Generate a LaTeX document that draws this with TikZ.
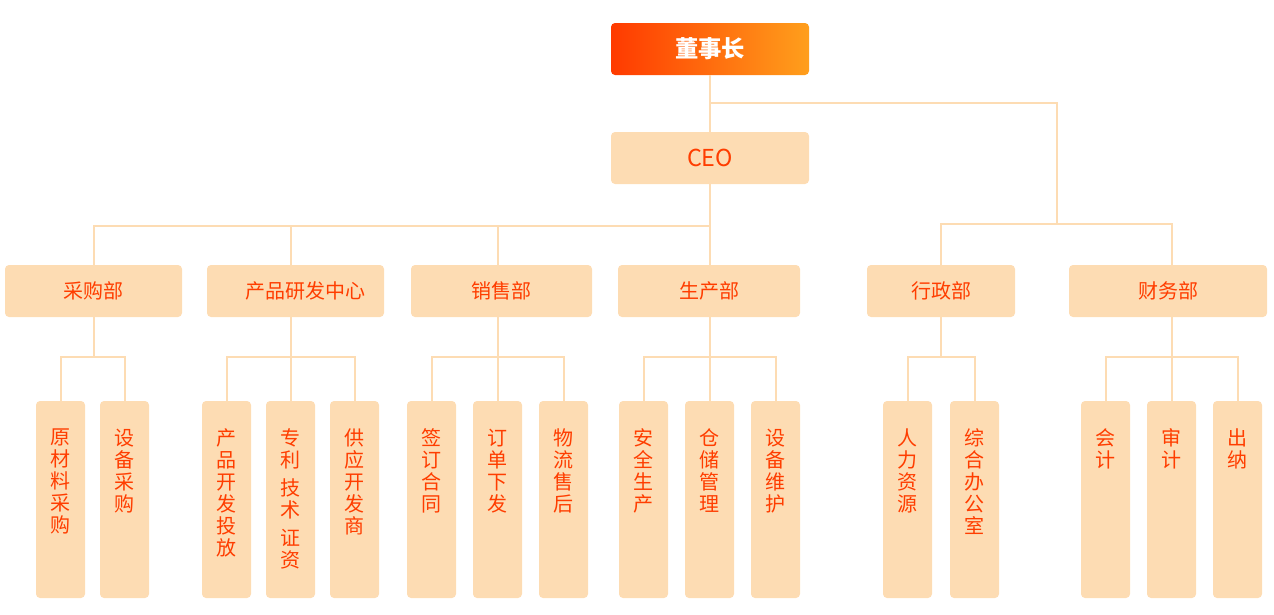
\documentclass[tikz,border=0pt]{standalone}
\usepackage{fontspec}
\setmainfont{Noto Sans CJK SC}
\usetikzlibrary{positioning}
\definecolor{boxfill}{HTML}{FDDCB3}
\definecolor{boxtext}{HTML}{FF3D00}
\definecolor{chairL}{HTML}{FF3A00}
\definecolor{chairR}{HTML}{FF9F1C}
\tikzset{
  topbox/.style={rectangle, rounded corners=3pt, minimum width=148.5pt,
                 minimum height=39pt, inner sep=0pt,
                 font=\fontsize{17.5}{20}\selectfont},
  dept/.style={rectangle, rounded corners=3pt, fill=boxfill, text=boxtext,
               minimum height=39pt, inner sep=0pt,
               font=\fontsize{15}{17}\selectfont},
  leaf/.style={rectangle, rounded corners=3pt, fill=boxfill,
               minimum width=36.75pt, minimum height=147.75pt, inner sep=0pt},
  leaftxt/.style={text=boxtext, align=center, inner sep=0pt,
                  font=\fontsize{15}{16.5}\selectfont},
  link/.style={draw=boxfill, line width=1.5pt},
}
\begin{document}
\begin{tikzpicture}[x=0.75pt, y=-0.75pt]
    \useasboundingbox (0,0) rectangle (1274,614);
    % top of the tree
    \node[topbox, left color=chairL, right color=chairR, text=white,
          font=\fontsize{17.5}{20}\selectfont\bfseries] (chair) at (710,49) {董事长};
    \node[topbox, fill=boxfill, text=boxtext] (ceo) at (710,158) {CEO};
    % departments
    \node[dept, minimum width=132.75pt] (buy) at (93.5,291) {采购部};
    \node[dept, minimum width=132.75pt] (rnd) at (295.5,291) {　产品研发中心};
    \node[dept, minimum width=135.75pt] (sale) at (501.5,291) {销售部};
    \node[dept, minimum width=136.5pt] (prod) at (709,291) {生产部};
    \node[dept, minimum width=111pt] (admin) at (941,291) {行政部};
    \node[dept, minimum width=148.5pt] (fin) at (1168,291) {财务部};
    % sections
    \node[leaf] (rawbuy) at (60.5,499.5) {};
    \node[leaftxt, below=21pt of rawbuy.north] (rawbuy-t) {原\\材\\料\\采\\购};
    \node[leaf] (eqbuy) at (124.5,499.5) {};
    \node[leaftxt, below=21pt of eqbuy.north] (eqbuy-t) {设\\备\\采\\购};
    \node[leaf] (launch) at (226.5,499.5) {};
    \node[leaftxt, below=21pt of launch.north] (launch-t) {产\\品\\开\\发\\投\\放};
    \node[leaf] (patent) at (290.5,499.5) {};
    \node[leaftxt, below=21pt of patent.north] (patent-t) {专\\利\\[4.5pt]技\\术\\[4.5pt]证\\资};
    \node[leaf] (supplier) at (354.5,499.5) {};
    \node[leaftxt, below=21pt of supplier.north] (supplier-t) {供\\应\\开\\发\\商};
    \node[leaf] (contract) at (431.5,499.5) {};
    \node[leaftxt, below=21pt of contract.north] (contract-t) {签\\订\\合\\同};
    \node[leaf] (order) at (497.5,499.5) {};
    \node[leaftxt, below=21pt of order.north] (order-t) {订\\单\\下\\发};
    \node[leaf] (logistics) at (563.5,499.5) {};
    \node[leaftxt, below=21pt of logistics.north] (logistics-t) {物\\流\\售\\后};
    \node[leaf] (safety) at (643.5,499.5) {};
    \node[leaftxt, below=21pt of safety.north] (safety-t) {安\\全\\生\\产};
    \node[leaf] (storage) at (709.5,499.5) {};
    \node[leaftxt, below=21pt of storage.north] (storage-t) {仓\\储\\管\\理};
    \node[leaf] (upkeep) at (775.5,499.5) {};
    \node[leaftxt, below=21pt of upkeep.north] (upkeep-t) {设\\备\\维\\护};
    \node[leaf] (hr) at (907.5,499.5) {};
    \node[leaftxt, below=21pt of hr.north] (hr-t) {人\\力\\资\\源};
    \node[leaf] (office) at (974.5,499.5) {};
    \node[leaftxt, below=21pt of office.north] (office-t) {综\\合\\办\\公\\室};
    \node[leaf] (account) at (1105.5,499.5) {};
    \node[leaftxt, below=21pt of account.north] (account-t) {会\\计};
    \node[leaf] (audit) at (1171.5,499.5) {};
    \node[leaftxt, below=21pt of audit.north] (audit-t) {审\\计};
    \node[leaf] (cashier) at (1237.5,499.5) {};
    \node[leaftxt, below=21pt of cashier.north] (cashier-t) {出\\纳};
    % connectors
    \coordinate (adminbus) at (1057,224);
    \draw[link] (chair) -- (ceo);
    \draw[link] (chair.south) -- ++(0,28) -| (adminbus);
    \draw[link] (adminbus) -| (admin.north);
    \draw[link] (adminbus) -| (fin.north -| audit.north);
    \draw[link] (ceo.south) -- ++(0,42) -| (buy.north);
    \draw[link] (ceo.south) -- ++(0,42) -| (rnd.north -| patent.north);
    \draw[link] (ceo.south) -- ++(0,42) -| (sale.north -| order.north);
    \draw[link] (ceo.south) -- (ceo.south |- prod.north);
    \draw[link] (buy.south) -- ++(0,40) -| (rawbuy.north);
    \draw[link] (buy.south) -- ++(0,40) -| (eqbuy.north);
    \draw[link] (rnd.south -| patent.north) -- ++(0,40) -| (launch.north);
    \draw[link] (rnd.south -| patent.north) -- (patent.north);
    \draw[link] (rnd.south -| patent.north) -- ++(0,40) -| (supplier.north);
    \draw[link] (sale.south -| order.north) -- ++(0,40) -| (contract.north);
    \draw[link] (sale.south -| order.north) -- (order.north);
    \draw[link] (sale.south -| order.north) -- ++(0,40) -| (logistics.north);
    \draw[link] (prod.south -| storage.north) -- ++(0,40) -| (safety.north);
    \draw[link] (prod.south -| storage.north) -- (storage.north);
    \draw[link] (prod.south -| storage.north) -- ++(0,40) -| (upkeep.north);
    \draw[link] (admin.south) -- ++(0,40) -| (hr.north);
    \draw[link] (admin.south) -- ++(0,40) -| (office.north);
    \draw[link] (fin.south -| audit.north) -- ++(0,40) -| (account.north);
    \draw[link] (fin.south -| audit.north) -- (audit.north);
    \draw[link] (fin.south -| audit.north) -- ++(0,40) -| (cashier.north);
  \end{tikzpicture}
\end{document}
